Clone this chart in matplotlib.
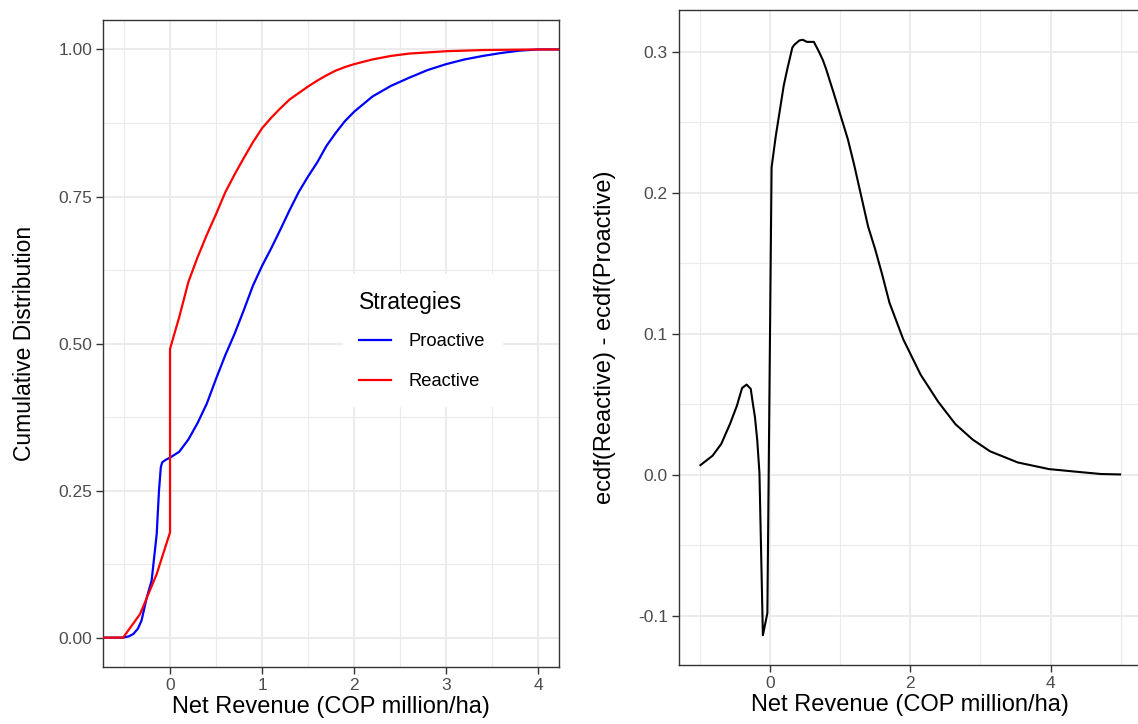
import numpy as np
import matplotlib.pyplot as plt
from matplotlib.ticker import MultipleLocator

plt.rcParams["font.family"] = ["Liberation Sans", "DejaVu Sans"]

# ECDF of net revenue
proactive_x = [-0.8, -0.51, -0.45, -0.4, -0.35, -0.31, -0.253, -0.2, -0.145, -0.12, -0.1,
               -0.085, -0.05, 0.0, 0.1, 0.2, 0.3, 0.4, 0.5, 0.6, 0.7, 0.8, 0.9, 1.0, 1.1,
               1.2, 1.3, 1.4, 1.5, 1.6, 1.7, 1.8, 1.9, 2.0, 2.2, 2.4, 2.6, 2.8, 3.0, 3.2,
               3.4, 3.6, 3.8, 4.0, 4.3]
proactive_y = [0.0, 0.0, 0.002, 0.006, 0.015, 0.029, 0.068, 0.097, 0.176, 0.25, 0.29,
               0.298, 0.302, 0.306, 0.316, 0.337, 0.365, 0.398, 0.44, 0.48, 0.516, 0.556,
               0.598, 0.632, 0.662, 0.694, 0.727, 0.758, 0.784, 0.808, 0.836, 0.858, 0.878,
               0.894, 0.920, 0.938, 0.952, 0.965, 0.975, 0.983, 0.989, 0.994, 0.998, 1.0, 1.0]

reactive_x = [-0.8, -0.51, -0.326, -0.145, 0.0, 0.0, 0.1, 0.2, 0.3, 0.4, 0.5, 0.6, 0.7, 0.8,
              0.9, 1.0, 1.1, 1.2, 1.3, 1.4, 1.5, 1.6, 1.7, 1.8, 1.9, 2.0, 2.2, 2.4, 2.6,
              2.8, 3.0, 3.4, 4.0, 4.3]
reactive_y = [0.0, 0.0, 0.040, 0.108, 0.179, 0.491, 0.545, 0.605, 0.647, 0.685, 0.72, 0.757,
              0.787, 0.815, 0.842, 0.866, 0.884, 0.90, 0.915, 0.926, 0.937, 0.947, 0.956,
              0.964, 0.970, 0.975, 0.983, 0.989, 0.993, 0.995, 0.997, 0.999, 1.0, 1.0]

# difference ecdf(Reactive) - ecdf(Proactive)
diff_x = [-0.988, -0.815, -0.691, -0.568, -0.469, -0.395, -0.331, -0.272, -0.24, -0.212,
          -0.18, -0.148, -0.099, -0.035, 0.025, 0.084, 0.198, 0.25, 0.321, 0.35, 0.42,
          0.47, 0.528, 0.627, 0.7, 0.756, 0.8, 0.914, 1.0, 1.111, 1.2, 1.259, 1.4, 1.5,
          1.6, 1.704, 1.901, 2.148, 2.395, 2.642, 2.889, 3.136, 3.531, 3.975, 4.37,
          4.716, 4.988]
diff_y = [0.0069, 0.0136, 0.022, 0.036, 0.049, 0.0616, 0.064, 0.061, 0.05, 0.041,
          0.025, 0.0016, -0.1137, -0.098, 0.218, 0.240, 0.276, 0.288, 0.303, 0.305, 0.308,
          0.3085, 0.307, 0.307, 0.300, 0.294, 0.288, 0.270, 0.256, 0.238, 0.22, 0.207,
          0.176, 0.160, 0.142, 0.122, 0.096, 0.071, 0.052, 0.036, 0.025, 0.0167, 0.0088,
          0.0041, 0.0022, 0.0006, 0.0003]

tick_size = 12.5
title_size = 17
grid_col = "#EBEBEB"


def style_axes(ax):
    ax.set_facecolor("white")
    ax.grid(True, which="major", color=grid_col, linewidth=1.4, zorder=0)
    ax.grid(True, which="minor", color=grid_col, linewidth=0.8, zorder=0)
    ax.set_axisbelow(True)
    for s in ax.spines.values():
        s.set_color("#333333")
        s.set_linewidth(1.0)
    ax.tick_params(which="major", length=5, width=1.0, color="#333333",
                   labelcolor="#4D4D4D", labelsize=tick_size, pad=3)
    ax.tick_params(which="minor", length=0)


fig = plt.figure(figsize=(11.38, 7.24), dpi=100)

# left panel
ax1 = fig.add_axes([0.0908, 0.0787, 0.4002, 0.8936])
style_axes(ax1)
ax1.plot(proactive_x, proactive_y, color="#0000FF", linewidth=1.6, label="Proactive", zorder=3)
ax1.plot(reactive_x, reactive_y, color="#FF0000", linewidth=1.6, label="Reactive", zorder=3)
ax1.set_xlim(-0.725, 4.225)
ax1.set_ylim(-0.05, 1.05)
ax1.xaxis.set_major_locator(MultipleLocator(1))
ax1.xaxis.set_minor_locator(MultipleLocator(0.5))
ax1.set_yticks([0, 0.25, 0.5, 0.75, 1.0])
ax1.set_yticklabels(["0.00", "0.25", "0.50", "0.75", "1.00"])
ax1.yaxis.set_minor_locator(MultipleLocator(0.125))
ax1.set_xlabel("Net Revenue (COP million/ha)", fontsize=title_size, labelpad=2)
ax1.set_ylabel("Cumulative Distribution", fontsize=16.5, labelpad=16)

leg = ax1.legend(title="Strategies", loc="center", bbox_to_anchor=(0.70, 0.505),
                 fontsize=13.2, title_fontsize=16.5, frameon=True, fancybox=False,
                 handlelength=1.75, handletextpad=0.95, labelspacing=1.25,
                 borderpad=0.9, borderaxespad=0)
leg.get_frame().set_facecolor("white")
leg.get_frame().set_edgecolor("white")
leg.get_frame().set_alpha(1)
leg._legend_box.align = "left"
leg._legend_box.sep = 14
for line in leg.get_lines():
    line.set_linewidth(1.6)

# right panel
ax2 = fig.add_axes([0.5967, 0.0815, 0.406, 0.9047])
style_axes(ax2)
ax2.plot(diff_x, diff_y, color="black", linewidth=1.5, zorder=3)
xr = max(diff_x) - min(diff_x)
yr = max(diff_y) - min(diff_y)
ax2.set_xlim(min(diff_x) - 0.05 * xr - 0.006, max(diff_x) + 0.05 * xr)
ax2.set_ylim(min(diff_y) - 0.05 * yr, max(diff_y) + 0.05 * yr)
ax2.xaxis.set_major_locator(MultipleLocator(2))
ax2.xaxis.set_minor_locator(MultipleLocator(1))
ax2.set_yticks([-0.1, 0.0, 0.1, 0.2, 0.3])
ax2.set_yticklabels(["-0.1", "0.0", "0.1", "0.2", "0.3"])
ax2.yaxis.set_minor_locator(MultipleLocator(0.05))
ax2.set_xlabel("Net Revenue (COP million/ha)", fontsize=title_size, labelpad=2)
ax2.set_ylabel("ecdf(Reactive) - ecdf(Proactive)", fontsize=title_size, labelpad=16)

fig.savefig("out.png", dpi=100)
